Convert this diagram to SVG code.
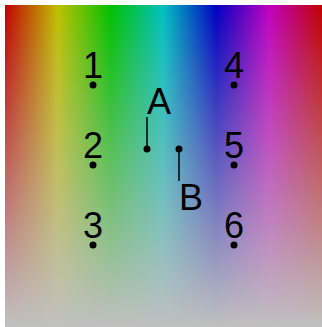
<svg xmlns="http://www.w3.org/2000/svg" width="322" height="327" viewBox="0 0 322 327">
<defs>
<linearGradient id="hue" x1="0" y1="0" x2="1" y2="0">
<stop offset="0" stop-color="#c00000"/>
<stop offset="0.1667" stop-color="#c0c000"/>
<stop offset="0.3333" stop-color="#00c000"/>
<stop offset="0.5" stop-color="#00c0c0"/>
<stop offset="0.6667" stop-color="#0000c0"/>
<stop offset="0.8333" stop-color="#c000c0"/>
<stop offset="1" stop-color="#c00000"/>
</linearGradient>
<linearGradient id="fade" x1="0" y1="0" x2="0" y2="1">
<stop offset="0" stop-color="#c0c0c0" stop-opacity="0"/>
<stop offset="1" stop-color="#c0c0c0" stop-opacity="1"/>
</linearGradient>
<style>
text{font-family:"Liberation Sans",Arial,sans-serif;font-size:36px;fill:#000}
.n{text-anchor:middle}
.dot{fill:#000}
.ln{stroke:#000;stroke-width:1.5;fill:none}
</style>
</defs>
<rect x="5" y="5" width="317" height="322" fill="url(#hue)"/>
<rect x="5" y="5" width="317" height="322" fill="url(#fade)"/>
<g id="connectors">
<line class="ln" x1="147" y1="149" x2="147" y2="117"/>
<line class="ln" x1="179" y1="149" x2="179" y2="181"/>
</g>
<g id="p1"><circle class="dot" cx="93" cy="85" r="3.5"/><text class="n" x="93" y="78">1</text></g>
<g id="p2"><circle class="dot" cx="93" cy="165" r="3.5"/><text class="n" x="93" y="158">2</text></g>
<g id="p3"><circle class="dot" cx="93" cy="245" r="3.5"/><text class="n" x="93" y="238">3</text></g>
<g id="p4"><circle class="dot" cx="234" cy="85" r="3.5"/><text class="n" x="234" y="78">4</text></g>
<g id="p5"><circle class="dot" cx="234" cy="165" r="3.5"/><text class="n" x="234" y="158">5</text></g>
<g id="p6"><circle class="dot" cx="234" cy="245" r="3.5"/><text class="n" x="234" y="238">6</text></g>
<g id="pA"><circle class="dot" cx="147" cy="149" r="3.5"/><text x="147" y="114">A</text></g>
<g id="pB"><circle class="dot" cx="179" cy="149" r="3.5"/><text x="179" y="210">B</text></g>
</svg>
